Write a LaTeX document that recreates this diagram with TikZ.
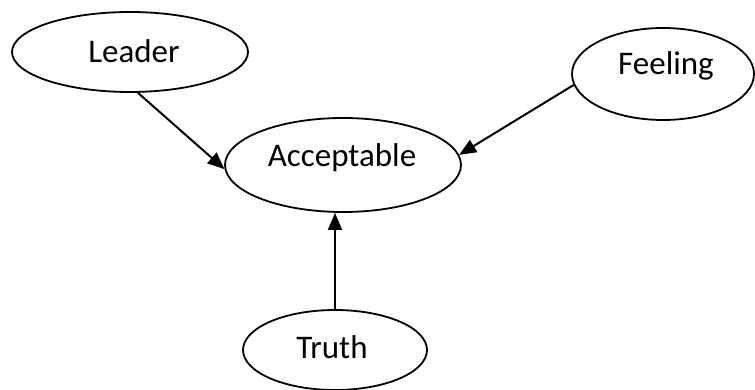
\documentclass[tikz,border=0pt]{standalone}
\usepackage{fontspec}
\setmainfont{Carlito}
\usetikzlibrary{shapes.geometric,arrows.meta}
\tikzset{
  oval/.style={ellipse, draw=black, line width=1.8pt, inner sep=0pt},
  lbl/.style={anchor=base, inner sep=0pt, font=\fontsize{33}{40}\selectfont},
  conn/.style={line width=2pt, -{Triangle[length=17pt,width=14pt]}}
}
\begin{document}
\begin{tikzpicture}[x=1pt,y=-1pt]
\useasboundingbox (0,0) rectangle (755,390);
\node[oval, minimum width=236pt, minimum height=80pt] (L) at (130,52) {};
\node[oval, minimum width=182pt, minimum height=92pt] (F) at (663,74) {};
\node[oval, minimum width=236pt, minimum height=94pt] (A) at (343,165) {};
\node[oval, minimum width=184pt, minimum height=80pt] (T) at (335,350) {};
\node[lbl] (Lt) at (134,63) {Leader};
\node[lbl] (Ft) at (666,75) {Feeling};
\node[lbl] (At) at (342,167) {Acceptable};
\node[lbl] (Tt) at (332,358) {Truth};
\draw[conn] (L.-79) -- (A.182);
\draw[conn] (F.187) -- (A.5);
\draw[conn] (T.north) -- (T.north |- A.south);
\end{tikzpicture}
\end{document}
